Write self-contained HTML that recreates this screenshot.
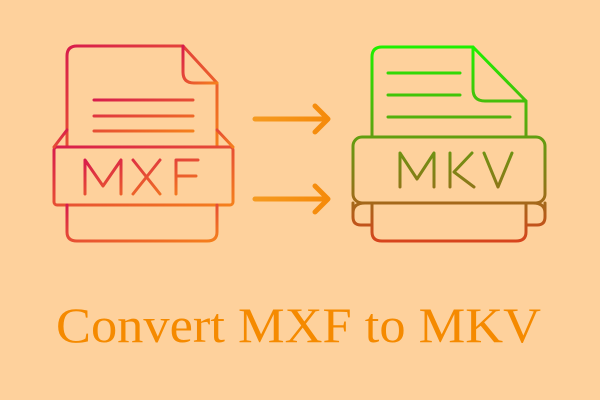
<!DOCTYPE html>
<html><head><style>html,body{margin:0;padding:0;background:#fed19c;}svg{display:block}</style></head>
<body>
<svg width="600" height="400" viewBox="0 0 600 400" xmlns="http://www.w3.org/2000/svg">
<defs>
<linearGradient id="g1" x1="0" y1="0" x2="1" y2="1" gradientUnits="objectBoundingBox">
<stop offset="0" stop-color="#d81c4c"/><stop offset="1" stop-color="#f5801c"/></linearGradient>
<linearGradient id="g2" x1="0" y1="47" x2="0" y2="242" gradientUnits="userSpaceOnUse">
<stop offset="0" stop-color="#1ef000"/><stop offset="0.45" stop-color="#5fa010"/><stop offset="0.7" stop-color="#8a7a18"/><stop offset="1" stop-color="#d8441c"/></linearGradient>
<linearGradient id="ga" x1="0" y1="0" x2="1" y2="0"><stop offset="0" stop-color="#f59a20"/><stop offset="1" stop-color="#f58a0a"/></linearGradient>
</defs>
<rect width="600" height="400" fill="#fed19c"/>
<g fill="none" stroke="url(#g1)" stroke-width="3" stroke-linecap="round" stroke-linejoin="round">
<path d="M67 147 V56 Q67 46 77 46 H183 L217 83 V147"/>
<path d="M183 46 V72 Q183 83 194 83 H217"/>
<path d="M94 100 H193 M94 116 H193 M94 131 H193"/>
<rect x="54" y="147" width="179" height="58" rx="3"/>
<path d="M54 147 L67 130 M233 147 L217 130"/>
<path d="M67 205 V232 Q67 241 77 241 H207 Q217 241 217 232 V205"/>
<path d="M85 194 V160 L103 186 L121 160 V194 M133 160 L160 194 M160 160 L133 194 M176 194 V160 H198 M176 176 H196"/>
</g>
<g fill="none" stroke="url(#g2)" stroke-width="3" stroke-linecap="round" stroke-linejoin="round">
<path d="M372 137 V57 Q372 47 382 47 H473 L526 101 V137"/>
<path d="M473 47 V89 Q473 101 485 101 H526"/>
<path d="M388 73 H460 M388 95 H460 M388 117 H510"/>
<rect x="353" y="137" width="192" height="66" rx="9"/>
<path d="M353 203 V217 Q353 225 361 225 H372 M545 203 V217 Q545 225 537 225 H526"/>
<path d="M353 213 Q353 203 365 203 H533 Q545 203 545 213"/>
<path d="M372 203 V232 Q372 241 382 241 H516 Q526 241 526 232 V203"/>
<path d="M400 187 V153 L417 179 L434 153 V187 M450 153 V187 M472 153 L454 172 L474 187 M484 153 L498 187 L512 153"/>
</g>
<g fill="none" stroke="url(#ga)" stroke-width="5" stroke-linecap="round" stroke-linejoin="round">
<path d="M255 119 H327 M315 106 L328 119 L315 132"/>
<path d="M255 199 H327 M315 186 L328 199 L315 212"/>
</g>
<text x="56" y="342" font-family="Liberation Serif, serif" font-size="50" fill="#f58a00" textLength="485" lengthAdjust="spacingAndGlyphs">Convert MXF to MKV</text>
</svg>
</body></html>
